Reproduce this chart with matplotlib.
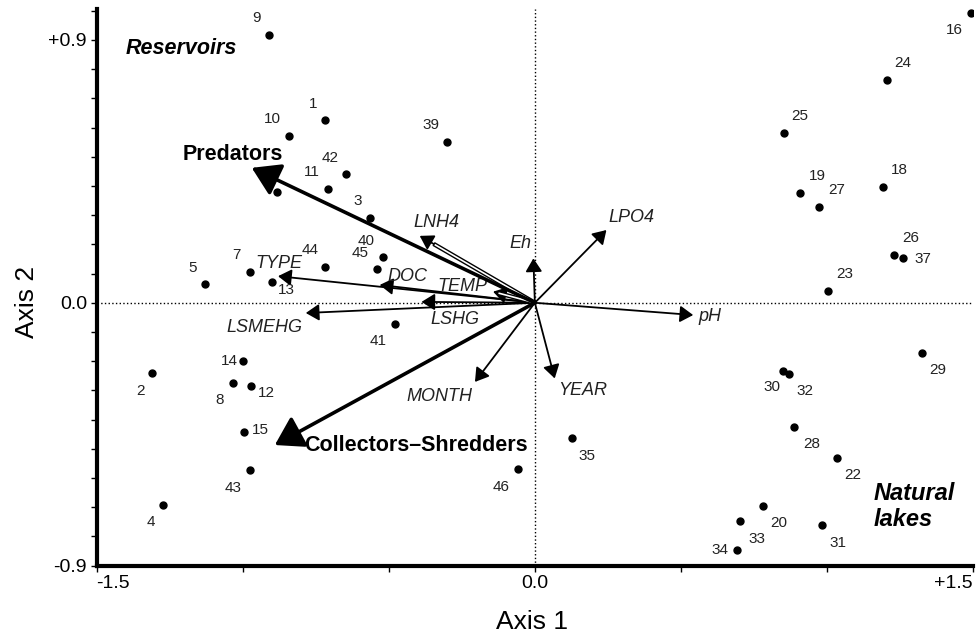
import matplotlib
matplotlib.use('Agg')
import matplotlib.pyplot as plt
from matplotlib.ticker import MultipleLocator

plt.rcParams['font.family'] = ['Liberation Sans', 'DejaVu Sans']

# site scores (axis 1, axis 2) and site numbers
site_x = [-0.911, -0.719, -0.842, -0.708, -0.647, -0.565, -0.300, -0.519, -0.542, -0.719,
          -0.976, -0.900, -1.128, -0.999, -1.309, -1.033, -0.970, -0.997, -0.976, -1.273,
          -0.479, -0.057, 0.128, 1.492, 1.207, 0.853, 0.908, 0.973, 1.191, 1.228,
          1.259, 1.004, 1.324, 0.850, 0.870, 0.888, 1.033, 0.780, 0.702, 0.984, 0.691, -0.881]
site_y = [0.916, 0.625, 0.570, 0.389, 0.440, 0.289, 0.549, 0.158, 0.114, 0.121,
          0.104, 0.070, 0.063, -0.199, -0.240, -0.276, -0.285, -0.442, -0.573, -0.693,
          -0.074, -0.570, -0.464, 0.991, 0.763, 0.580, 0.377, 0.327, 0.395, 0.163,
          0.152, 0.040, -0.171, -0.234, -0.245, -0.425, -0.530, -0.695, -0.747, -0.761, -0.847, 0.380]
site_lab = ['9', '1', '10', '11', '42', '3', '39', '40', '45', '44',
            '7', '13', '5', '14', '2', '8', '12', '15', '43', '4',
            '41', '46', '35', '16', '24', '25', '19', '27', '18', '26',
            '37', '23', '29', '30', '32', '28', '22', '20', '33', '31', '34', '']

# environmental variables (arrow tips)
env_names = ['LNH4', 'Eh', 'LPO4', 'DOC', 'TEMP', 'TYPE', 'LSHG', 'LSMEHG', 'pH', 'MONTH', 'YEAR']
env_x = [-0.394, -0.005, 0.245, -0.531, -0.143, -0.879, -0.388, -0.784, 0.542, -0.205, 0.068]
env_y = [0.229, 0.152, 0.249, 0.061, 0.038, 0.091, 0.003, -0.035, -0.042, -0.271, -0.259]

# functional groups (thick arrows)
grp_names = ['Predators', 'Collectors\u2013Shredders']
grp_x = [-0.969, -0.890]
grp_y = [0.462, -0.487]

xtick_vals = [-1.5, -1.0, -0.5, 0.0, 0.5, 1.0, 1.5]
xtick_labs = ['-1.5', '', '', '0.0', '', '', '+1.5']
ytick_vals = [-0.9, 0.0, 0.9]
ytick_labs = ['-0.9', '0.0', '+0.9']

# label offsets in pixels (dx, dy) for the site numbers
lab_off = [(-12, 17), (-12, 16), (-16, 17), (-16, 17), (-16, 16), (-12, 17), (-16, 17), (-17, 16), (-16, 16), (-15, 17),
           (-13, 17), (14, -8), (-13, 16), (-14, 0), (-12, -18), (-13, -17), (15, -7), (17, 2), (-17, -18), (-12, -17),
           (-17, -17), (-17, -18), (15, -18), (-16, -17), (15, 17), (16, 17), (17, 17), (18, 17), (17, 17), (17, 17),
           (20, -1), (17, 17), (16, -17), (-11, -16), (16, -17), (17, -17), (16, -17), (16, -17), (17, -18), (16, -18), (-17, 0), (0, 0)]
# label positions for the variables and groups (data coords)
env_lab_pos = [(-0.336, 0.276), (-0.048, 0.204), (0.329, 0.293), (-0.435, 0.091), (-0.247, 0.057), (-0.877, 0.133),
               (-0.274, -0.056), (-0.925, -0.083), (0.599, -0.046), (-0.325, -0.320), (0.164, -0.302)]
grp_lab_pos = [(-1.034, 0.509), (-0.408, -0.487)]

fig = plt.figure(figsize=(9.76, 6.37), dpi=100)
ax = fig.add_axes([0.099, 0.112, 0.898, 0.874])

ax.axhline(0, color='k', ls=':', lw=1, zorder=1)
ax.axvline(0, color='k', ls=':', lw=1, zorder=1)

# thin arrows for the variables
for i in range(len(env_names)):
    ax.annotate('', xy=(env_x[i], env_y[i]), xytext=(0, 0),
                arrowprops=dict(arrowstyle='-|>,head_length=0.4,head_width=0.25', color='k',
                                lw=1.3, mutation_scale=20, shrinkA=0, shrinkB=0), zorder=3)
    ax.text(env_lab_pos[i][0], env_lab_pos[i][1], env_names[i], fontsize=13, style='italic',
            ha='center', va='center', color='#222222')

# LNH4 and TEMP are drawn hollow in the original
for n in ['LNH4', 'TEMP']:
    i = env_names.index(n)
    ax.plot([0, env_x[i] * 0.88], [0, env_y[i] * 0.88], color='k', lw=3.2, solid_capstyle='butt', zorder=3)
    ax.plot([env_x[i] * 0.05, env_x[i] * 0.87], [env_y[i] * 0.05, env_y[i] * 0.87], color='white', lw=1.2,
            solid_capstyle='butt', zorder=3)

# thick arrows for the groups
for i in range(len(grp_names)):
    ax.annotate('', xy=(grp_x[i], grp_y[i]), xytext=(0, 0),
                arrowprops=dict(arrowstyle='-|>,head_length=0.4,head_width=0.25', color='k',
                                lw=2.6, mutation_scale=42, shrinkA=0, shrinkB=0), zorder=4)
    ax.text(grp_lab_pos[i][0], grp_lab_pos[i][1], grp_names[i], fontsize=15.5, fontweight='bold',
            ha='center', va='center')

# sites
ax.plot(site_x, site_y, 'o', color='k', ms=5, zorder=5)
for i in range(len(site_lab)):
    ax.annotate(site_lab[i], (site_x[i], site_y[i]), xytext=lab_off[i], textcoords='offset pixels',
                fontsize=11, ha='center', va='center', color='#222222')

ax.text(-1.209, 0.872, 'Reservoirs', fontsize=15.5, fontweight='bold', style='italic', ha='center', va='center')
ax.text(1.158, -0.697, 'Natural\nlakes', fontsize=17, fontweight='bold', style='italic',
        ha='left', va='center', linespacing=1.15)

ax.set_xlim(-1.5, 1.5)
ax.set_ylim(-0.9, 1.006)
ax.set_xticks(xtick_vals)
ax.set_xticklabels(xtick_labs, fontsize=14)
ax.set_yticks(ytick_vals)
ax.set_yticklabels(ytick_labs, fontsize=14)
ax.yaxis.set_minor_locator(MultipleLocator(0.1))
ax.tick_params(which='both', direction='out', length=4, width=1, pad=3)
ax.get_xticklabels()[0].set_ha('left')
ax.get_xticklabels()[-1].set_ha('right')

for s in ['top', 'right']:
    ax.spines[s].set_visible(False)
for s in ['left', 'bottom']:
    ax.spines[s].set_linewidth(3)

ax.set_xlabel('Axis 1', fontsize=19)
ax.set_ylabel('Axis 2', fontsize=19)
ax.xaxis.set_label_coords(0.497, -0.08)
ax.yaxis.set_label_coords(-0.066, 0.474)

plt.savefig('out.png', dpi=100)
